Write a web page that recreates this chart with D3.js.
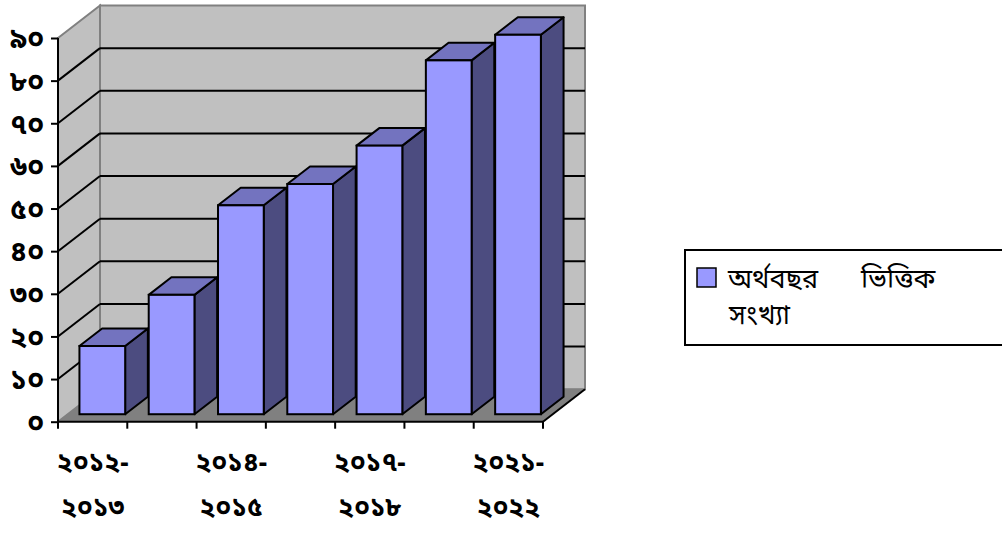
<!DOCTYPE html>
<html>
<head>
<meta charset="utf-8">
<script src="https://cdn.jsdelivr.net/npm/d3@7"></script>
<style>
  body { margin: 0; background: #fff; }
  svg { display: block; }
  text { font-family: "Noto Sans Bengali", "Noto Serif Bengali", "Lohit Bengali", "FreeSerif", "Noto Sans", sans-serif; fill: #000; }
</style>
</head>
<body>
<div id="chart"></div>
<script>
// categories (financial years) - only every other one gets a label in the picture
var categories = ['২০১২-২০১৩', '২০১৩-২০১৪', '২০১৪-২০১৫', '২০১৬-২০১৭', '২০১৭-২০১৮', '২০১৯-২০২০', '২০২১-২০২২'];
var values = [16, 28, 49, 54, 63, 83, 89];
var yTicks = [0, 10, 20, 30, 40, 50, 60, 70, 80, 90];
var yTickLabels = ['০', '১০', '২০', '৩০', '৪০', '৫০', '৬০', '৭০', '৮০', '৯০'];
var seriesName = ['অর্থবছর', 'ভিত্তিক', 'সংখ্যা'];

var width = 1002, height = 533;
var plot = { left: 58, right: 543, top: 38, bottom: 421.7 },
    depth = { dx: 42, dy: -32.5 },   // oblique depth of the 3d box
    barDepth = [0.23, 0.77];         // bar sits in the middle of the depth

var x = d3.scaleBand()
  .domain(categories)
  .range([plot.left, plot.right])
  .paddingInner(0.34)
  .paddingOuter(0.17);

var y = d3.scaleLinear()
  .domain([0, 90])
  .range([plot.bottom, plot.top]);

var svg = d3.select('#chart').append('svg')
  .attr('width', width)
  .attr('height', height);

var pts = function(arr) { return arr.map(function(p) { return p.join(','); }).join(' '); };

/**
 * Walls and floor
 */
var y0 = y(0), yTop = y(90);
// side wall
svg.append('polygon')
  .attr('points', pts([[plot.left, yTop], [plot.left + depth.dx, yTop + depth.dy], [plot.left + depth.dx, y0 + depth.dy], [plot.left, y0]]))
  .style('fill', '#c0c0c0')
  .style('stroke', '#808080')
  .style('stroke-width', 2);
// back wall
svg.append('rect')
  .attr('x', plot.left + depth.dx)
  .attr('y', yTop + depth.dy)
  .attr('width', plot.right - plot.left)
  .attr('height', y0 - yTop)
  .style('fill', '#c0c0c0')
  .style('stroke', '#808080')
  .style('stroke-width', 2);
// floor
svg.append('polygon')
  .attr('points', pts([[plot.left, y0], [plot.left + depth.dx, y0 + depth.dy], [plot.right + depth.dx, y0 + depth.dy], [plot.right, y0]]))
  .style('fill', '#808080')
  .style('stroke', 'none');
svg.append('line')
  .attr('x1', plot.right).attr('y1', y0)
  .attr('x2', plot.right + depth.dx).attr('y2', y0 + depth.dy)
  .style('stroke', '#000').style('stroke-width', 2);

// gridlines on back and side wall
var grid = yTicks.filter(function(d) { return d > 0 && d < 90; });
svg.selectAll('.grid-back').data(grid)
  .enter().append('line')
    .attr('class', 'grid-back')
    .attr('x1', plot.left + depth.dx).attr('x2', plot.right + depth.dx)
    .attr('y1', function(d) { return y(d) + depth.dy; })
    .attr('y2', function(d) { return y(d) + depth.dy; })
    .style('stroke', '#000').style('stroke-width', 2);
svg.selectAll('.grid-side').data(grid)
  .enter().append('line')
    .attr('class', 'grid-side')
    .attr('x1', plot.left).attr('y1', function(d) { return y(d); })
    .attr('x2', plot.left + depth.dx).attr('y2', function(d) { return y(d) + depth.dy; })
    .style('stroke', '#000').style('stroke-width', 2);

/**
 * Bars
 */
var bars = svg.selectAll('.bar').data(values)
  .enter().append('g')
    .attr('class', 'bar')
    .attr('transform', function(d, i) {
      return 'translate(' + (x(categories[i]) + depth.dx * barDepth[0]) + ',' + (depth.dy * barDepth[0]) + ')';
    });

var bw = x.bandwidth(),
    bdx = depth.dx * (barDepth[1] - barDepth[0]),
    bdy = depth.dy * (barDepth[1] - barDepth[0]);

// side face
bars.append('polygon')
  .attr('points', function(d) {
    return pts([[bw, y(d)], [bw + bdx, y(d) + bdy], [bw + bdx, y0 + bdy], [bw, y0]]);
  })
  .style('fill', '#4c4c80')
  .style('stroke', '#000').style('stroke-width', 2).style('stroke-linejoin', 'round');
// top face
bars.append('polygon')
  .attr('points', function(d) {
    return pts([[0, y(d)], [bdx, y(d) + bdy], [bw + bdx, y(d) + bdy], [bw, y(d)]]);
  })
  .style('fill', '#7373bf')
  .style('stroke', '#000').style('stroke-width', 2).style('stroke-linejoin', 'round');
// front face
bars.append('rect')
  .attr('x', 0)
  .attr('y', function(d) { return y(d); })
  .attr('width', bw)
  .attr('height', function(d) { return y0 - y(d); })
  .style('fill', '#9999ff')
  .style('stroke', '#000').style('stroke-width', 2);

/**
 * Axes
 */
var yAxis = d3.axisLeft(y)
  .tickValues(yTicks)
  .tickSize(7)
  .tickFormat(function(d, i) { return yTickLabels[i]; });

var gy = svg.append('g')
  .attr('transform', 'translate(' + plot.left + ',0)')
  .call(yAxis);
gy.select('.domain').attr('d', 'M0,' + y(90) + 'V' + y(0)).style('stroke-width', 2);
gy.selectAll('.tick line').style('stroke-width', 2);
gy.selectAll('.tick text')
  .attr('x', -14)
  .attr('dy', '0.35em')
  .style('font-family', null)
  .style('font-size', '28px')
  .style('font-weight', 'bold');

// x axis: ticks on category boundaries
var bounds = d3.range(categories.length + 1).map(function(i) { return plot.left + i * x.step(); });
svg.append('line')
  .attr('x1', plot.left).attr('x2', plot.right)
  .attr('y1', y0).attr('y2', y0)
  .style('stroke', '#000').style('stroke-width', 2);
svg.selectAll('.xtick').data(bounds)
  .enter().append('line')
    .attr('class', 'xtick')
    .attr('x1', function(d) { return d; }).attr('x2', function(d) { return d; })
    .attr('y1', y0).attr('y2', y0 + 7)
    .style('stroke', '#000').style('stroke-width', 2);

var xLabels = svg.selectAll('.xlabel')
  .data(categories.filter(function(d, i) { return i % 2 === 0; }))
  .enter().append('text')
    .attr('class', 'xlabel')
    .attr('text-anchor', 'middle')
    .style('font-size', '26px')
    .style('font-weight', 'bold');
xLabels.append('tspan')
  .attr('x', function(d) { return x(d) + x.bandwidth() / 2; })
  .attr('y', 471)
  .text(function(d) { return d.split('-')[0] + '-'; });
xLabels.append('tspan')
  .attr('x', function(d) { return x(d) + x.bandwidth() / 2; })
  .attr('y', 516)
  .text(function(d) { return d.split('-')[1]; });

/**
 * Legend
 */
var legend = svg.append('g').attr('class', 'legend');
legend.append('rect')
  .attr('x', 685).attr('y', 250)
  .attr('width', 330).attr('height', 95)
  .style('fill', '#fff')
  .style('stroke', '#000').style('stroke-width', 2);
legend.append('rect')
  .attr('x', 697).attr('y', 268)
  .attr('width', 19).attr('height', 19)
  .style('fill', '#9999ff')
  .style('stroke', '#000').style('stroke-width', 1.5);
legend.append('text')
  .attr('x', 728).attr('y', 288)
  .style('font-size', '27px')
  .text(seriesName[0]);
legend.append('text')
  .attr('x', 861).attr('y', 288)
  .style('font-size', '27px')
  .text(seriesName[1]);
legend.append('text')
  .attr('x', 729).attr('y', 324)
  .style('font-size', '27px')
  .text(seriesName[2]);
</script>
</body>
</html>
